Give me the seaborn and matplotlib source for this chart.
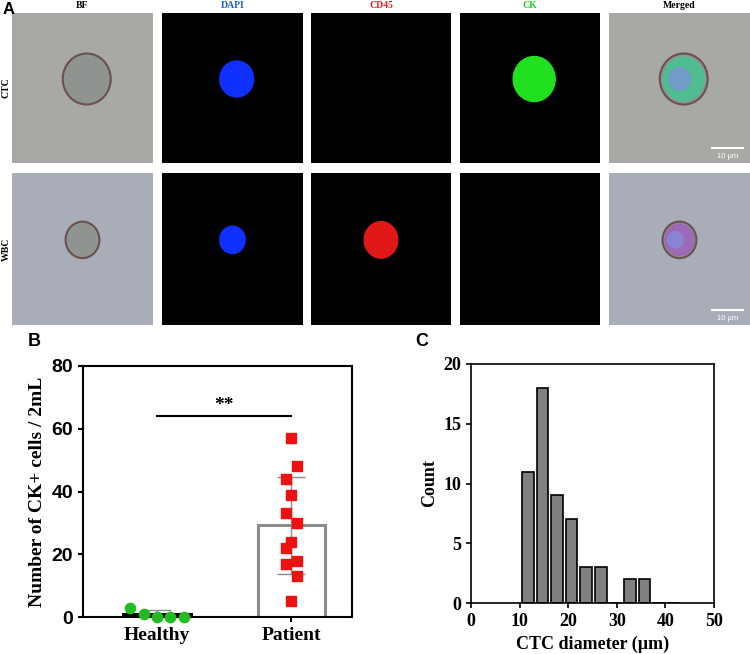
import numpy as np
import pandas as pd
import seaborn as sns
import matplotlib.pyplot as plt
from matplotlib.patches import Circle, Rectangle

# panel B data
healthy = [3, 1, 0, 0, 0]
patient = [57, 48, 44, 39, 33, 30, 24, 22, 18, 17, 13, 5]
healthy_dx = [-0.2, -0.1, 0.0, 0.1, 0.2]
patient_dx = [0.0, 0.04, -0.04, 0.0, -0.04, 0.04, 0.0, -0.04, 0.04, -0.04, 0.04, 0.0]

# panel C data
bin_centers = [11.7, 14.7, 17.7, 20.7, 23.7, 26.7, 29.7, 32.7, 35.7, 38.7, 41.7]
counts = [11, 18, 9, 7, 3, 3, 0, 2, 2, 0, 0]

col_titles = ['BF', 'DAPI', 'CD45', 'CK', 'Merged']
title_colors = ['black', '#1f5fd0', '#e02020', '#20d020', 'black']
row_titles = ['CTC', 'WBC']

serif = 'Liberation Serif'
sans = 'Liberation Sans'

fig = plt.figure(figsize=(7.5, 6.54), dpi=100)
W, H = 750, 654

def ax_px(x0, y0, x1, y1):
    return fig.add_axes([x0 / W, 1 - y1 / H, (x1 - x0) / W, (y1 - y0) / H])

# Panel A: schematic microscopy tiles
col_x = [(12, 153), (162, 303), (311, 451), (460, 600), (609, 750)]
row_y = [(13, 163), (173, 325)]
cells = {
    0: [None, ('#1030ff', 0.12), None, ('#20e020', 0.15), 'merge'],
    1: [None, ('#1030ff', 0.09), ('#e01818', 0.12), None, 'merge'],
}
for r, (y0, y1) in enumerate(row_y):
    for c, (x0, x1) in enumerate(col_x):
        ax = ax_px(x0, y0, x1, y1)
        ax.set_xlim(0, 1); ax.set_ylim(0, 1)
        ax.set_xticks([]); ax.set_yticks([])
        for s in ax.spines.values():
            s.set_visible(False)
        bf = c in (0, 4)
        bg = ('#a8a8a4' if r == 0 else '#a9adb8') if bf else 'black'
        ax.add_patch(Rectangle((0, 0), 1, 1, color=bg))
        cx, cy = (0.53, 0.56) if r == 0 else (0.5, 0.56)
        rad = 0.17 if r == 0 else 0.12
        if bf:
            ax.add_patch(Circle((cx, cy), rad, facecolor='#8e9490', edgecolor='#6b5050', lw=1.5))
            if c == 4:
                inner = '#40c890' if r == 0 else '#a060c0'
                ax.add_patch(Circle((cx, cy), rad * 0.85, color=inner, alpha=0.8))
                ax.add_patch(Circle((cx - 0.03, cy), rad * 0.45, color='#8090e0', alpha=0.7))
                ax.plot([0.73, 0.95], [0.1, 0.1], color='white', lw=1.5)
                ax.text(0.84, 0.03, '10 µm', color='white', fontsize=5.5, ha='center', family=sans)
        else:
            spec = cells[r][c]
            if spec:
                ax.add_patch(Circle((cx, cy), spec[1], color=spec[0]))
        if r == 0:
            fig.text((x0 + x1) / 2 / W, 1 - 6 / H, col_titles[c], ha='center', va='center',
                     fontsize=7, fontweight='bold', color=title_colors[c], family=serif)
        if c == 0:
            fig.text(6 / W, 1 - (y0 + y1) / 2 / H, row_titles[r], ha='center', va='center',
                     rotation=90, fontsize=7, fontweight='bold', family=serif)
fig.text(3 / W, 1 - 9 / H, 'A', fontsize=12, fontweight='bold', family=sans, va='center')

# Panel B
axb = ax_px(83, 366, 352, 617)
groups = ['Healthy', 'Patient']
df_b = pd.DataFrame({'group': groups, 'value': [np.mean(healthy), np.mean(patient)]})
sns.barplot(data=df_b, x='group', y='value', ax=axb, width=0.5, fill=False,
            edgecolor=['black', '#8c8c8c'], linewidth=2.2, errorbar=None)
for i, vals in enumerate([healthy, patient]):
    m, sd = np.mean(vals), np.std(vals, ddof=1)
    axb.errorbar(i, m, yerr=sd, color='#8c8c8c', capsize=10, lw=1, capthick=1, zorder=2)
axb.scatter(np.array(healthy_dx), healthy, s=55, color='#22bb22', zorder=3, clip_on=False)
axb.scatter(1 + np.array(patient_dx), patient, s=55, marker='s', color='#ee1111', zorder=3)
axb.plot([0, 1], [64, 64], color='black', lw=1.5)
axb.text(0.5, 66, '**', ha='center', fontsize=14, fontweight='bold', family=serif)
axb.set_ylim(0, 80)
axb.set_xlim(-0.55, 1.45)
axb.set_yticks([0, 20, 40, 60, 80])
axb.set_xlabel('')
axb.set_ylabel('Number of CK+ cells / 2mL', fontsize=14, fontweight='bold', family=serif)
axb.tick_params(axis='y', labelsize=14, width=1.5)
axb.tick_params(axis='x', labelsize=14, width=1.5)
for lab in axb.get_yticklabels():
    lab.set_fontweight('bold'); lab.set_family(sans)
for lab in axb.get_xticklabels():
    lab.set_fontweight('bold'); lab.set_family(serif)
for s in axb.spines.values():
    s.set_linewidth(1.5)
fig.text(28 / W, 1 - 342 / H, 'B', fontsize=13, fontweight='bold', family=sans, va='center')

# Panel C
axc = ax_px(471, 364, 714, 603)
axc.bar(bin_centers, counts, width=2.4, color='#808080', edgecolor='black', linewidth=1.2)
axc.set_xlim(0, 50); axc.set_ylim(0, 20)
axc.set_xticks([0, 10, 20, 30, 40, 50]); axc.set_yticks([0, 5, 10, 15, 20])
axc.set_xlabel('CTC diameter (µm)', fontsize=13, fontweight='bold', family=serif)
axc.set_ylabel('Count', fontsize=13, fontweight='bold', family=serif)
axc.tick_params(labelsize=13, width=1.2)
for lab in axc.get_xticklabels() + axc.get_yticklabels():
    lab.set_fontweight('bold'); lab.set_family(serif)
for s in axc.spines.values():
    s.set_linewidth(1.2)
fig.text(415 / W, 1 - 342 / H, 'C', fontsize=13, fontweight='bold', family=sans, va='center')

fig.savefig('out.png', dpi=100)
